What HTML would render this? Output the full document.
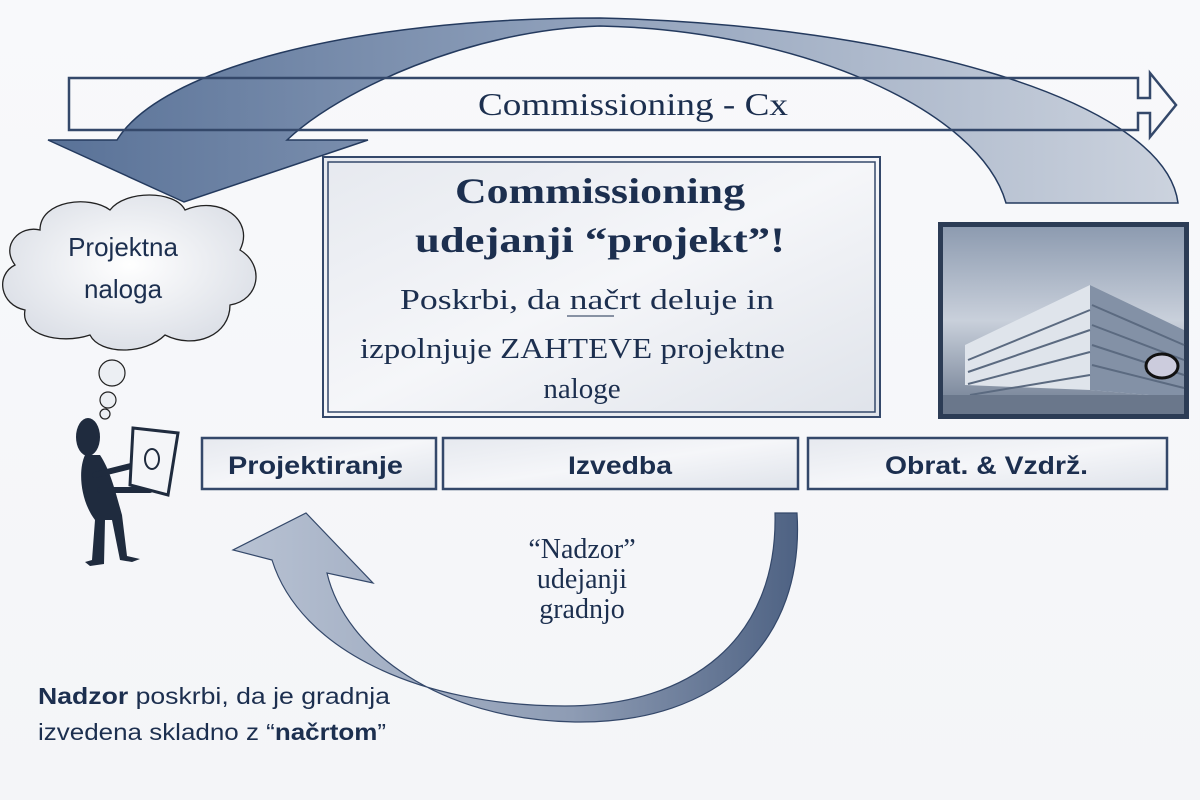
<!DOCTYPE html>
<html><head><meta charset="utf-8"><style>
html,body{margin:0;padding:0;background:#f6f7f9;}
svg{display:block;}
.serif{font-family:"Liberation Serif",serif;fill:#1c2f4f;}
.sans{font-family:"Liberation Sans",sans-serif;fill:#1c2f4f;}
</style></head><body>
<svg width="1200" height="800" viewBox="0 0 1200 800" xmlns="http://www.w3.org/2000/svg">
<defs>
<linearGradient id="bg" x1="0" y1="0" x2="0" y2="1"><stop offset="0" stop-color="#f8f9fb"/><stop offset="1" stop-color="#f4f5f8"/></linearGradient>
<linearGradient id="arr" x1="0" y1="0" x2="1" y2="0"><stop offset="0" stop-color="#3d5a86"/><stop offset="0.45" stop-color="#7b8fae"/><stop offset="0.8" stop-color="#aab6c9"/><stop offset="1" stop-color="#c4ccd9"/></linearGradient>
<linearGradient id="arr2" x1="0" y1="0" x2="1" y2="0"><stop offset="0" stop-color="#b8c2d3"/><stop offset="0.6" stop-color="#8e9cb4"/><stop offset="1" stop-color="#4e6283"/></linearGradient>
<linearGradient id="box" x1="0" y1="0" x2="1" y2="1"><stop offset="0" stop-color="#e6e9ef"/><stop offset="0.5" stop-color="#f5f6f9"/><stop offset="1" stop-color="#dfe3ea"/></linearGradient>
<radialGradient id="cloud" cx="0.5" cy="0.45" r="0.6"><stop offset="0" stop-color="#ffffff"/><stop offset="1" stop-color="#d9dde5"/></radialGradient>
<linearGradient id="sky" x1="0" y1="0" x2="0" y2="1"><stop offset="0" stop-color="#8d9bb0"/><stop offset="0.5" stop-color="#c9d0db"/><stop offset="1" stop-color="#6d7b90"/></linearGradient>
</defs>
<rect width="1200" height="800" fill="url(#bg)"/>

<path d="M1178,203 C1165,100 900,25 600,18 C350,18 160,70 117,140 L48,140 L184,202 L368,140 L287,140 C340,90 470,30 600,26 C800,30 980,110 1006,203 Z" fill="url(#arr)" fill-opacity="0.85" stroke="#243a5e" stroke-width="1.5"/>

<path d="M69,78 L1138,78 L1138,98 L1150,98 L1150,73 L1176,105 L1150,137 L1150,113 L1138,113 L1138,130 L69,130 Z" fill="none" stroke="#34486a" stroke-width="2.5"/>
<text x="478" y="115" class="serif" font-size="32" textLength="310" lengthAdjust="spacingAndGlyphs">Commissioning - Cx</text>

<rect x="323" y="157" width="557" height="260" fill="url(#box)" stroke="#34486a" stroke-width="2"/>
<rect x="328" y="162" width="547" height="250" fill="none" stroke="#34486a" stroke-width="1.5"/>
<text x="455" y="203" class="serif" font-size="36" font-weight="bold" textLength="290" lengthAdjust="spacingAndGlyphs">Commissioning</text>
<text x="415" y="252" class="serif" font-size="36" font-weight="bold" textLength="370" lengthAdjust="spacingAndGlyphs">udejanji “projekt”!</text>
<text x="400" y="309" class="serif" font-size="29" textLength="374" lengthAdjust="spacingAndGlyphs">Poskrbi, da načrt deluje in</text>
<line x1="567" y1="316" x2="614" y2="316" stroke="#1c2f4f" stroke-width="1"/>
<text x="360" y="358" class="serif" font-size="29" textLength="425" lengthAdjust="spacingAndGlyphs">izpolnjuje ZAHTEVE projektne</text>
<text x="582" y="398" text-anchor="middle" class="serif" font-size="29">naloge</text>

<path d="M40,230 C40,200 90,195 110,210 C125,190 175,190 185,210 C220,195 255,220 240,250 C265,265 260,300 230,305 C230,335 195,350 165,335 C145,355 100,355 90,335 C60,345 20,335 25,310 C0,305 -5,275 15,265 C0,245 20,225 40,230 Z" fill="url(#cloud)" stroke="#222" stroke-width="1.3"/>
<text x="123" y="256" text-anchor="middle" class="sans" font-size="26">Projektna</text>
<text x="123" y="298" text-anchor="middle" class="sans" font-size="26">naloga</text>
<circle cx="112" cy="373" r="13" fill="#eceff3" stroke="#222" stroke-width="1.2"/>
<circle cx="108" cy="400" r="8" fill="#eceff3" stroke="#222" stroke-width="1.2"/>
<circle cx="105" cy="414" r="5" fill="#eceff3" stroke="#222" stroke-width="1.2"/>

<g fill="#1f2b3e" stroke="#1f2b3e">
<ellipse cx="88" cy="437" rx="12" ry="19" stroke="none"/>
<path d="M85,455 C78,470 80,500 95,520 L92,560 L85,562 L90,566 L104,564 L105,520 L112,520 L120,560 L132,562 L140,559 L127,556 L122,515 C115,490 110,470 100,455 Z" stroke="none"/>
<path d="M95,475 L135,465 M100,490 L150,490" stroke-width="6" fill="none" stroke-linecap="round"/>
</g>
<path d="M133,428 L178,433 L168,495 L130,485 Z" fill="#f4f5f8" stroke="#1f2b3e" stroke-width="3"/>
<ellipse cx="152" cy="459" rx="7" ry="10" fill="none" stroke="#1f2b3e" stroke-width="2"/>

<rect x="938" y="222" width="251" height="197" fill="#2c3c55"/>
<rect x="943" y="227" width="241" height="187" fill="url(#sky)"/>
<polygon points="965,345 1090,285 1184,330 1184,398 1090,390 965,385" fill="#dfe4eb"/>
<polygon points="1090,285 1184,330 1184,398 1090,390" fill="#8391a6"/>
<g stroke="#5b6a80" stroke-width="2">
<line x1="968" y1="360" x2="1090" y2="310"/><line x1="968" y1="372" x2="1090" y2="330"/><line x1="968" y1="384" x2="1090" y2="352"/><line x1="970" y1="395" x2="1090" y2="375"/>
<line x1="1092" y1="305" x2="1184" y2="345"/><line x1="1092" y1="325" x2="1184" y2="360"/><line x1="1092" y1="345" x2="1184" y2="375"/><line x1="1092" y1="365" x2="1184" y2="388"/>
</g>
<rect x="943" y="395" width="241" height="19" fill="#6a778b"/>
<ellipse cx="1162" cy="366" rx="16" ry="12" fill="#ccd" stroke="#111" stroke-width="3"/>

<g fill="url(#box)" stroke="#34486a" stroke-width="2.5">
<rect x="202" y="438" width="234" height="51"/>
<rect x="443" y="438" width="355" height="51"/>
<rect x="808" y="438" width="359" height="51"/>
</g>
<g font-size="25" font-weight="bold">
<text x="228" y="474" class="sans" textLength="175" lengthAdjust="spacingAndGlyphs">Projektiranje</text>
<text x="568" y="474" class="sans" textLength="104" lengthAdjust="spacingAndGlyphs">Izvedba</text>
<text x="885" y="474" class="sans" textLength="203" lengthAdjust="spacingAndGlyphs">Obrat. &amp; Vzdrž.</text>
</g>

<path d="M797,513 C805,640 720,724 575,722 C440,720 345,650 327,573 L373,583 L306,513 L233,550 L272,560 C300,650 420,706 565,706 C690,706 778,640 775,513 Z" fill="url(#arr2)" stroke="#34486a" stroke-width="1.2"/>

<text x="582" y="558" text-anchor="middle" class="serif" font-size="28">“Nadzor”</text>
<text x="582" y="588" text-anchor="middle" class="serif" font-size="28">udejanji</text>
<text x="582" y="618" text-anchor="middle" class="serif" font-size="28">gradnjo</text>

<text x="38" y="704" class="sans" font-size="23" textLength="352" lengthAdjust="spacingAndGlyphs"><tspan font-weight="bold">Nadzor</tspan> poskrbi, da je gradnja</text>
<text x="38" y="740" class="sans" font-size="23" textLength="348" lengthAdjust="spacingAndGlyphs">izvedena skladno z “<tspan font-weight="bold">načrtom</tspan>”</text>
</svg>
</body></html>
